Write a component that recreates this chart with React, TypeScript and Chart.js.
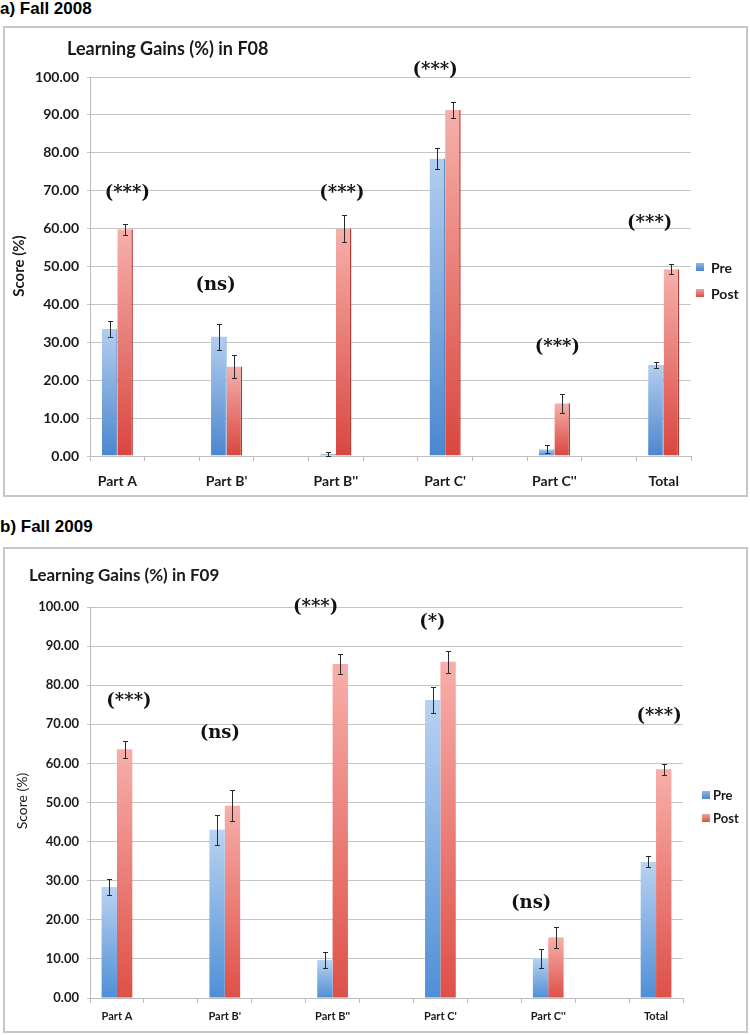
import { useEffect, useRef } from "react";
import { Chart, registerables } from "chart.js";
Chart.register(...registerables);

// ---------- data ----------
const categories = ["Part A", "Part B'", "Part B''", "Part C'", "Part C''", "Total"];
const seriesNames = ["Pre", "Post"];
const yTickValues = [0, 10, 20, 30, 40, 50, 60, 70, 80, 90, 100];

const preF08 = [33.5, 31.5, 0.5, 78.5, 1.8, 24.0];
const preErrF08 = [2.0, 3.4, 0.5, 2.8, 1.0, 0.9];
const postF08 = [59.8, 23.6, 60.0, 91.3, 13.9, 49.3];
const postErrF08 = [1.5, 3.0, 3.5, 2.0, 2.5, 1.3];
const sigF08 = ["(***)", "(ns)", "(***)", "(***)", "(***)", "(***)"];
const sigLevelF08 = [69.4, 45.1, 69.4, 101.8, 28.8, 61.5];

const preF09 = [28.4, 43.0, 9.7, 76.2, 10.2, 34.8];
const preErrF09 = [2.0, 3.9, 2.0, 3.4, 2.4, 1.4];
const postF09 = [63.6, 49.2, 85.4, 86.0, 15.5, 58.5];
const postErrF09 = [2.2, 4.0, 2.6, 2.8, 2.6, 1.4];
const sigF09 = ["(***)", "(ns)", "(***)", "(*)", "(ns)", "(***)"];
const sigLevelF09 = [75.8, 67.8, 99.8, 96.1, 24.2, 72.1];

// ---------- helpers ----------
const spread = <T,>(arr: T[], blank: T): T[] =>
  arr.flatMap((v, i) => (i < arr.length - 1 ? [v, blank] : [v]));

const grad = (top: string, bottom: string) => (ctx: any) => {
  const chart = ctx.chart;
  const ys = chart.scales && chart.scales.y;
  if (!chart.chartArea || !ys || ctx.raw == null) return bottom;
  const y0 = ys.getPixelForValue(0);
  const y1 = ys.getPixelForValue(ctx.raw);
  if (!isFinite(y1) || !isFinite(y0) || Math.abs(y0 - y1) < 1) return bottom;
  const g = chart.ctx.createLinearGradient(0, y1, 0, y0);
  g.addColorStop(0, top);
  g.addColorStop(1, bottom);
  return g;
};

type Style = {
  w: number; h: number;
  area: { left: number; right: number; top: number; bottom: number };
  xAxisH: number; xPad: number; xFont: number;
  yFont: number;
  title: string; titleX: number; titleY: number; titleFont: number;
  yTitleX: number; yTitleY: number; yTitleFont: number; yTitleWeight: string;
  legendSqX: number; legendTextX: number; legendY: number[]; legendFont: number;
  sigDx: number[];
  preTop: string; preBottom: string; postTop: string; postBottom: string;
  edge: boolean;
};

type Data = {
  pre: number[]; preErr: number[]; post: number[]; postErr: number[];
  sig: string[]; sigLevel: number[];
};

function BarChart({ data, st }: { data: Data; st: Style }) {
  const ref = useRef<HTMLCanvasElement>(null);
  useEffect(() => {
    const errs = [data.preErr, data.postErr];
    const vals = [data.pre, data.post];
    const overlay = {
      id: "overlay",
      afterDatasetsDraw(chart: any) {
        const c = chart.ctx;
        const ys = chart.scales.y;
        c.save();
        c.strokeStyle = "#2a2a2a";
        c.lineWidth = 1;
        for (let d = 0; d < 2; d++) {
          const meta = chart.getDatasetMeta(d);
          categories.forEach((_, k) => {
            const el = meta.data[k * 2];
            if (!el) return;
            const v = vals[d][k];
            const e = errs[d][k];
            const x = Math.round(el.x) + 0.5;
            const yt = Math.round(ys.getPixelForValue(v + e)) + 0.5;
            const yb = Math.round(ys.getPixelForValue(Math.max(v - e, 0))) + 0.5;
            c.beginPath();
            c.moveTo(x, yt); c.lineTo(x, yb);
            c.moveTo(x - 2.5, yt); c.lineTo(x + 2.5, yt);
            c.moveTo(x - 2.5, yb); c.lineTo(x + 2.5, yb);
            c.stroke();
          });
        }
        c.restore();
      },
      afterDraw(chart: any) {
        const c = chart.ctx;
        const xs = chart.scales.x;
        const ys = chart.scales.y;
        c.save();
        // title
        c.fillStyle = "#1a1a1a";
        c.textBaseline = "middle";
        c.textAlign = "left";
        c.font = `bold ${st.titleFont}px Lato`;
        c.fillText(st.title, st.titleX, st.titleY);
        // y title
        c.save();
        c.translate(st.yTitleX, st.yTitleY);
        c.rotate(-Math.PI / 2);
        c.textAlign = "center";
        c.font = `${st.yTitleWeight} ${st.yTitleFont}px Lato`;
        c.fillText("Score (%)", 0, 0);
        c.restore();
        // legend
        const cols = [["#8db6e6", "#4a86cc"], ["#f2a19c", "#d9504a"]];
        seriesNames.forEach((n, i) => {
          const y = st.legendY[i];
          const g = c.createLinearGradient(0, y - 4, 0, y + 4);
          g.addColorStop(0, cols[i][0]);
          g.addColorStop(1, cols[i][1]);
          c.fillStyle = g;
          c.fillRect(st.legendSqX, y - 4, 8, 8);
          c.fillStyle = "#1a1a1a";
          c.textAlign = "left";
          c.font = `bold ${st.legendFont}px Lato`;
          c.fillText(n, st.legendTextX, y + 1);
        });
        // significance labels
        c.font = "bold 18px 'DejaVu Serif'";
        c.textAlign = "center";
        c.fillStyle = "#111";
        data.sig.forEach((s, k) => {
          const x = xs.getPixelForValue(k * 2) + st.sigDx[k];
          const y = ys.getPixelForValue(data.sigLevel[k]);
          c.fillText(s, x, y);
        });
        c.restore();
      },
    };

    const chart = new Chart(ref.current!, {
      type: "bar",
      data: {
        labels: spread(categories, ""),
        datasets: [
          {
            label: seriesNames[0],
            data: spread<number | null>(data.pre, null),
            backgroundColor: grad(st.preTop, st.preBottom),
            borderColor: "#3f74b5",
            borderWidth: st.edge ? { right: 1, left: 0, top: 0, bottom: 0 } : 0,
            borderSkipped: false,
          },
          {
            label: seriesNames[1],
            data: spread<number | null>(data.post, null),
            backgroundColor: grad(st.postTop, st.postBottom),
            borderColor: "#b23a35",
            borderWidth: st.edge ? { right: 1.5, left: 0, top: 0, bottom: 0 } : 0,
            borderSkipped: false,
          },
        ],
      },
      options: {
        responsive: false,
        devicePixelRatio: 1,
        animation: false,
        events: [],
        layout: {
          padding: {
            left: st.area.left - 65,
            right: st.w - st.area.right,
            top: st.area.top,
            bottom: st.h - st.area.bottom - st.xAxisH,
          },
        },
        datasets: { bar: { categoryPercentage: 0.57, barPercentage: 1 } },
        plugins: { legend: { display: false }, title: { display: false }, tooltip: { enabled: false } },
        scales: {
          x: {
            afterFit: (s: any) => { s.height = st.xAxisH; },
            grid: { display: true, drawOnChartArea: false, drawTicks: true, tickLength: 5, color: "#bdbdbd", offset: true },
            border: { display: true, color: "#bdbdbd" },
            ticks: {
              autoSkip: false, maxRotation: 0, minRotation: 0, padding: st.xPad,
              color: "#1a1a1a", font: { family: "Lato", weight: "bold", size: st.xFont },
            },
          },
          y: {
            min: 0, max: 100,
            afterFit: (s: any) => { s.width = 65; },
            afterBuildTicks: (s: any) => { s.ticks = yTickValues.map((v) => ({ value: v })); },
            grid: { color: "#c4c4c4", tickLength: 3, drawTicks: true },
            border: { display: true, color: "#bdbdbd" },
            ticks: {
              padding: 8,
              color: "#1a1a1a",
              font: { family: "Lato", weight: "bold", size: st.yFont },
              callback: (v: any) => Number(v).toFixed(2),
            },
          },
        },
      } as any,
      plugins: [overlay],
    });
    return () => chart.destroy();
  }, []);
  return <canvas ref={ref} width={st.w} height={st.h} style={{ display: "block", width: st.w, height: st.h }} />;
}

const styleA: Style = {
  w: 741, h: 467,
  area: { left: 85, right: 686, top: 49, bottom: 428 },
  xAxisH: 36, xPad: 12, xFont: 14, yFont: 14,
  title: "Learning Gains (%) in F08", titleX: 62, titleY: 21, titleFont: 18,
  yTitleX: 14, yTitleY: 238, yTitleFont: 15, yTitleWeight: "bold",
  legendSqX: 691, legendTextX: 706, legendY: [239, 265], legendFont: 14,
  sigDx: [10, -11, 6, -10, 3, -14],
  preTop: "#b3cdef", preBottom: "#4a87cf", postTop: "#f6b0ab", postBottom: "#d9463f",
  edge: true,
};

const styleB: Style = {
  w: 741, h: 482,
  area: { left: 85, right: 678, top: 58, bottom: 449 },
  xAxisH: 30, xPad: 7, xFont: 11, yFont: 13,
  title: "Learning Gains (%) in F09", titleX: 24, titleY: 27, titleFont: 17,
  yTitleX: 17, yTitleY: 252, yTitleFont: 14, yTitleWeight: "normal",
  legendSqX: 697, legendTextX: 708, legendY: [246, 269], legendFont: 13,
  sigDx: [12, -5, -17, -8, -17, 3],
  preTop: "#b9d2f1", preBottom: "#4f8fd6", postTop: "#f8aeaa", postBottom: "#de5047",
  edge: false,
};

const heading: any = {
  position: "absolute", left: 0, fontFamily: "'Liberation Sans', Arial, sans-serif",
  fontWeight: "bold", fontSize: 17, lineHeight: "17px", color: "#000",
};
const frame: any = {
  position: "absolute", left: 3, width: 745, boxSizing: "border-box",
  border: "2px solid #c6c6c6", background: "#fff",
};

export default function App() {
  return (
    <div style={{ position: "absolute", left: 0, top: 0, width: 750, height: 1035, background: "#fff" }}>
      <div style={{ ...heading, top: 0 }}>a) Fall 2008</div>
      <div style={{ ...frame, top: 26, height: 471 }}>
        <BarChart
          data={{ pre: preF08, preErr: preErrF08, post: postF08, postErr: postErrF08, sig: sigF08, sigLevel: sigLevelF08 }}
          st={styleA}
        />
      </div>
      <div style={{ ...heading, top: 518 }}>b) Fall 2009</div>
      <div style={{ ...frame, top: 547, height: 486 }}>
        <BarChart
          data={{ pre: preF09, preErr: preErrF09, post: postF09, postErr: postErrF09, sig: sigF09, sigLevel: sigLevelF09 }}
          st={styleB}
        />
      </div>
    </div>
  );
}
